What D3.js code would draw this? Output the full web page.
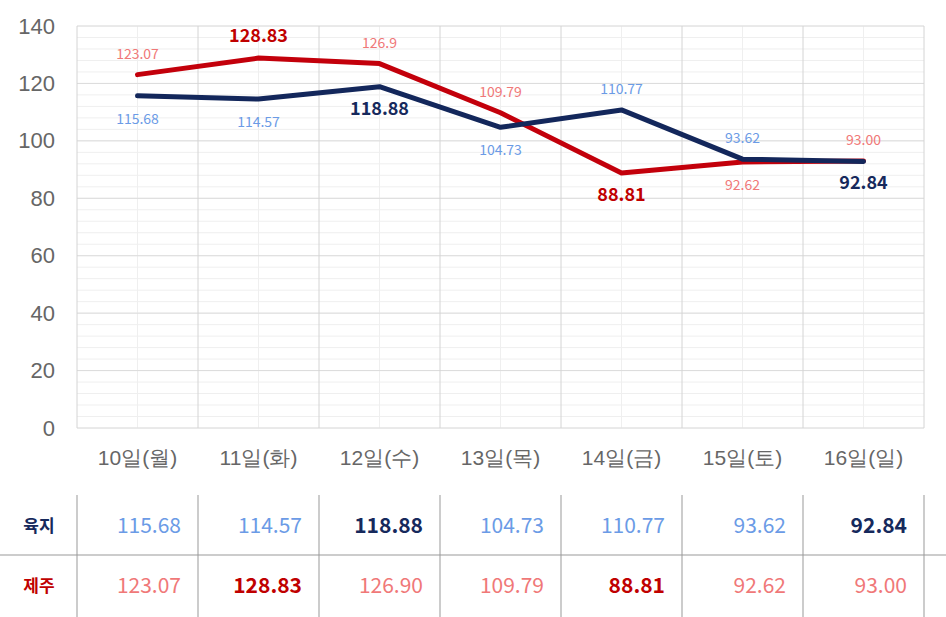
<!DOCTYPE html>
<html><head><meta charset="utf-8">
<script src="https://cdn.jsdelivr.net/npm/d3@7"></script>
<style>body{margin:0;background:#fff;font-family:"Noto Sans CJK KR","Noto Sans",sans-serif}</style>
</head><body><div id="chart"></div>
<script>
const days = ["10일(월)","11일(화)","12일(수)","13일(목)","14일(금)","15일(토)","16일(일)"];
const land = [115.68,114.57,118.88,104.73,110.77,93.62,92.84];
const jeju = [123.07,128.83,126.9,109.79,88.81,92.62,93.0];
const jejuLabels = ["123.07","128.83","126.9","109.79","88.81","92.62","93.00"];
const yTicks = [0,20,40,60,80,100,120,140];

const W = 946, H = 617;
const m = {left:77, right:920, top:26, bottom:428};
const svg = d3.select("#chart").append("svg").attr("width",W).attr("height",H);

const x = d3.scaleBand().domain(days).range([m.left, m.left + 121*7]);
const y = d3.scaleLinear().domain([0,140]).range([m.bottom, m.top]);
const cx = d => x(d) + x.bandwidth()/2;

// grid
const g = svg.append("g");
g.selectAll(".minor").data(d3.range(0,141,4)).join("line")
  .attr("x1",m.left).attr("x2",m.left+121*7).attr("y1",d=>y(d)).attr("y2",d=>y(d))
  .attr("stroke","#efefef");
g.selectAll(".vmin").data(days).join("line")
  .attr("x1",cx).attr("x2",cx).attr("y1",m.top).attr("y2",m.bottom).attr("stroke","#efefef");
g.selectAll(".major").data(yTicks).join("line")
  .attr("x1",m.left).attr("x2",m.left+121*7).attr("y1",d=>y(d)).attr("y2",d=>y(d))
  .attr("stroke","#dcdcdc");
g.selectAll(".vmaj").data(d3.range(8)).join("line")
  .attr("x1",i=>m.left+121*i).attr("x2",i=>m.left+121*i).attr("y1",m.top).attr("y2",m.bottom)
  .attr("stroke","#d4d4d4");

// axes
const ya = svg.append("g").attr("transform",`translate(${m.left},0)`)
  .call(d3.axisLeft(y).tickValues(yTicks).tickSize(0).tickPadding(22));
ya.select(".domain").remove();
ya.selectAll("text").attr("font-size",22).attr("fill","#666").attr("font-family","inherit");
const xa = svg.append("g").attr("transform",`translate(0,${m.bottom})`)
  .call(d3.axisBottom(x).tickSize(0).tickPadding(22));
xa.select(".domain").remove();
xa.selectAll("text").attr("font-size",21).attr("fill","#666").attr("font-family","inherit");

const line = d3.line().x((d,i)=>cx(days[i])).y(d=>y(d));
svg.append("path").datum(jeju).attr("d",line).attr("fill","none").attr("stroke","#c3000b").attr("stroke-width",5).attr("stroke-linejoin","round").attr("stroke-linecap","round");
svg.append("path").datum(land).attr("d",line).attr("fill","none").attr("stroke","#13275b").attr("stroke-width",5).attr("stroke-linejoin","round").attr("stroke-linecap","round");

function labels(vals, texts, above, light, dark){
  const mx = d3.max(vals), mn = d3.min(vals);
  svg.append("g").selectAll("text").data(vals).join("text")
    .attr("x",(d,i)=>cx(days[i]))
    .attr("y",(d,i)=>y(d) + (above[i] ? -16 : 28))
    .attr("text-anchor","middle")
    .attr("font-size",d=>(d===mx||d===mn)?18:14)
    .attr("font-weight",d=>(d===mx||d===mn)?"bold":"normal")
    .attr("fill",d=>(d===mx||d===mn)?dark:light)
    .text((d,i)=>texts[i]);
}
labels(jeju, jejuLabels, [1,1,1,1,0,0,1], "#f07878", "#c00000");
labels(land, land.map(d=>d.toFixed(2)), [0,0,0,0,1,1,0], "#6b9be6", "#16295c");

// table
const t = svg.append("g");
t.selectAll(".tv").data(d3.range(8)).join("line")
  .attr("x1",i=>m.left+121*i).attr("x2",i=>m.left+121*i).attr("y1",495).attr("y2",617)
  .attr("stroke","#999");
t.append("line").attr("x1",0).attr("x2",W).attr("y1",555).attr("y2",555).attr("stroke","#999");
const rows = [{name:"육지",vals:land,light:"#6b9be6",dark:"#16295c",yy:526},
              {name:"제주",vals:jeju,light:"#f07878",dark:"#c00000",yy:586}];
rows.forEach(r=>{
  const mx=d3.max(r.vals), mn=d3.min(r.vals);
  t.append("text").attr("x",39).attr("y",r.yy).attr("dy","0.35em").attr("text-anchor","middle")
    .attr("font-size",17).attr("font-weight","bold").attr("fill",r.dark).text(r.name);
  t.append("g").selectAll("text").data(r.vals).join("text")
    .attr("x",(d,i)=>x(days[i])+x.bandwidth()-17).attr("y",r.yy).attr("dy","0.35em")
    .attr("text-anchor","end").attr("font-size",21)
    .attr("font-weight",d=>(d===mx||d===mn)?"bold":"normal")
    .attr("fill",d=>(d===mx||d===mn)?r.dark:r.light)
    .text(d=>d.toFixed(2));
});
</script></body></html>
